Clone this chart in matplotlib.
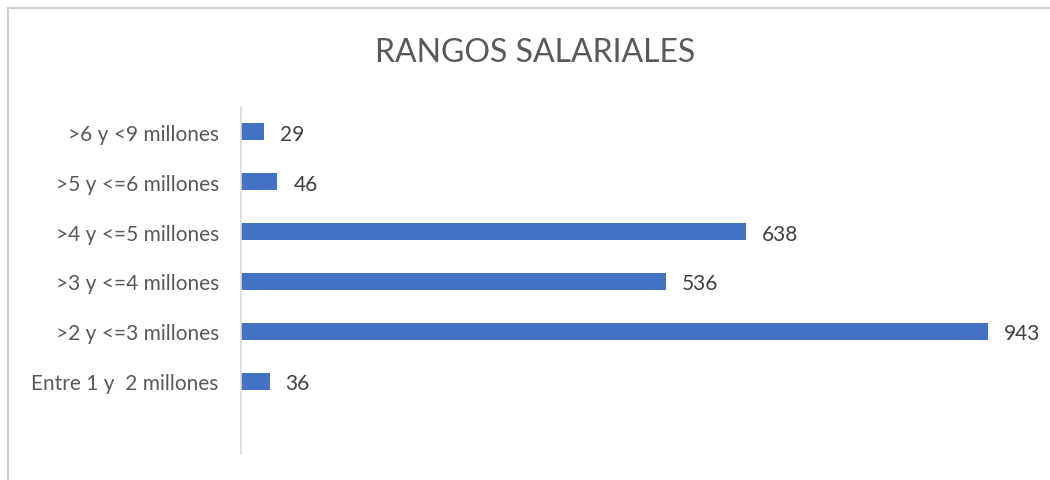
import matplotlib.pyplot as plt
from matplotlib.lines import Line2D

categorias = ['Entre 1 y  2 millones', '>2 y <=3 millones', '>3 y <=4 millones',
              '>4 y <=5 millones', '>5 y <=6 millones', '>6 y <9 millones']
valores = [36, 943, 536, 638, 46, 29]

plt.rcParams['font.family'] = ['Lato', 'DejaVu Sans']
gris = '#595959'

W, H = 1050, 481
fig = plt.figure(figsize=(W / 100, H / 100), dpi=100)
# axes placed in pixel terms
ax = fig.add_axes([241 / W, (H - 455) / H, 792 / W, (455 - 108) / H])

pos = list(range(len(categorias)))
ax.barh(pos, valores, height=0.34, color='#4472C4')
ax.set_xlim(0, 1000)
ax.set_ylim(-1.46, 5.5)
ax.set_yticks(pos)
ax.set_yticklabels(categorias, fontsize=15, color=gris)
ax.tick_params(axis='y', length=0, pad=16)
ax.set_xticks([])
for s in ['top', 'right', 'bottom']:
    ax.spines[s].set_visible(False)
ax.spines['left'].set_color('#d9d9d9')
ax.spines['left'].set_linewidth(1.2)

for p, v in zip(pos, valores):
    ax.annotate(str(v), (v, p), xytext=(16, -2), textcoords='offset pixels',
                ha='left', va='center', fontsize=15, color='#404040')

fig.text(535 / W, 1 - 53 / H, 'RANGOS SALARIALES', ha='center', va='center',
         fontsize=23, color=gris)

# chart border (top and left visible)
fig.add_artist(Line2D([8 / W, 1], [1 - 9 / H, 1 - 9 / H], color='#d0d0d0', lw=1.5,
                      transform=fig.transFigure))
fig.add_artist(Line2D([8 / W, 8 / W], [0, 1 - 9 / H], color='#d0d0d0', lw=1.5,
                      transform=fig.transFigure))

fig.savefig('out.png', dpi=100, facecolor='white')
